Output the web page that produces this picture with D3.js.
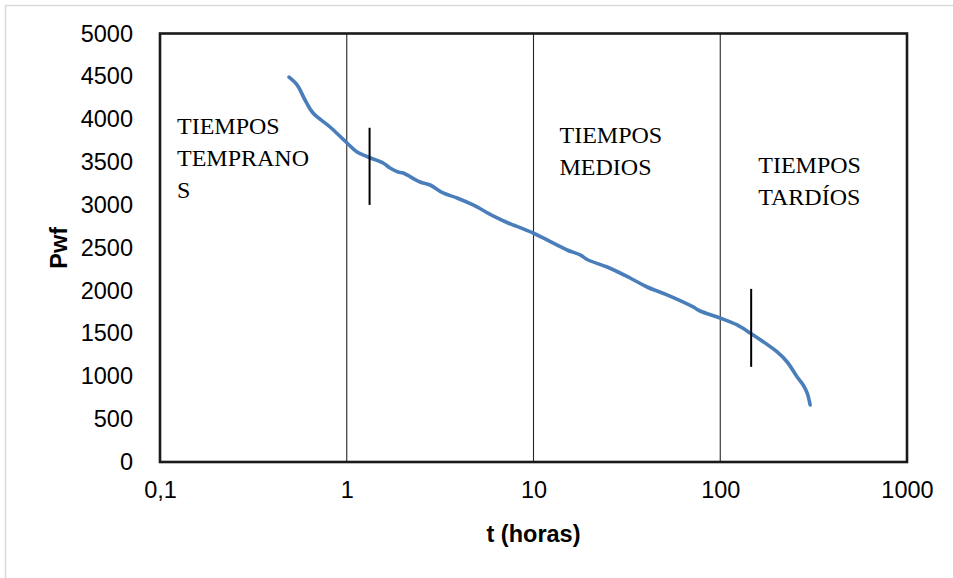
<!DOCTYPE html>
<html>
<head>
<meta charset="utf-8">
<script src="https://cdn.jsdelivr.net/npm/d3@7"></script>
<style>
  html, body { margin: 0; padding: 0; background: #ffffff; }
  svg { display: block; }
</style>
</head>
<body>
<script>
// Pressure drawdown: Pwf versus time on a semi-log scale
const timeHours = [0.491, 0.542, 0.598, 0.660, 0.814, 1.004, 1.135, 1.30, 1.565, 1.705,
  1.883, 2.003, 2.47, 2.795, 3.28, 3.897, 4.75, 6.075, 7.31, 7.78, 9.95, 11.83, 15.14,
  17.77, 19.61, 24.8, 32.9, 40.6, 51.9, 71.6, 78.0, 99.9, 123.1, 144.6, 201.7, 228.2,
  258.2, 278, 292.2, 303];
const pwf = [4490, 4400, 4224, 4072, 3909, 3722, 3617, 3559, 3489, 3431,
  3384, 3372, 3267, 3232, 3139, 3081, 2999, 2871, 2789, 2766, 2672, 2591, 2474,
  2416, 2357, 2275, 2147, 2042, 1949, 1809, 1762, 1680, 1599, 1505, 1284, 1167,
  992, 899, 805, 665];

// Region boundaries (decade lines) and flow-regime markers
const boundaries = [1, 10, 100];
const markerTimes = [1.325, 146.4];
const markerLow = [3000, 1110];
const markerHigh = [3900, 2020];

// Region labels (one entry per text line)
const regionStart = [0.1, 10, 100];
const regionLines = [["TIEMPOS", "TEMPRANO", "S"], ["TIEMPOS", "MEDIOS"], ["TIEMPOS", "TARDÍOS"]];

const xTicks = [0.1, 1, 10, 100, 1000];
const xTickLabels = ["0,1", "1", "10", "100", "1000"];
const yTicks = [0, 500, 1000, 1500, 2000, 2500, 3000, 3500, 4000, 4500, 5000];

const W = 953, H = 578;
const plot = { left: 160, right: 907, top: 33.5, bottom: 462 };

const svg = d3.select("body").append("svg").attr("width", W).attr("height", H);

// outer chart frame
svg.append("rect")
  .attr("x", 5.5).attr("y", 5.5).attr("width", 960).attr("height", 590)
  .attr("fill", "#ffffff").attr("stroke", "#d9d9d9").attr("stroke-width", 1.5);

const x = d3.scaleLog().domain([0.1, 1000]).range([plot.left, plot.right]);
const y = d3.scaleLinear().domain([0, 5000]).range([plot.bottom, plot.top]);

// decade boundary lines
svg.append("g").selectAll("line").data(boundaries).join("line")
  .attr("x1", d => x(d)).attr("x2", d => x(d))
  .attr("y1", plot.top).attr("y2", plot.bottom)
  .attr("stroke", "#262626").attr("stroke-width", 1.1);

// plot frame
svg.append("rect")
  .attr("x", plot.left).attr("y", plot.top)
  .attr("width", plot.right - plot.left).attr("height", plot.bottom - plot.top)
  .attr("fill", "none").attr("stroke", "#1a1a1a").attr("stroke-width", 2.6);

// y axis labels
const yAxis = d3.axisLeft(y).tickValues(yTicks).tickSize(0).tickPadding(27).tickFormat(d3.format("d"));
svg.append("g").attr("transform", `translate(${plot.left},0)`).call(yAxis)
  .call(g => g.select(".domain").remove())
  .selectAll("text")
  .attr("font-family", "Liberation Sans, Arial, sans-serif")
  .attr("font-size", 23.5).attr("fill", "#000");

// x axis labels
const xAxis = d3.axisBottom(x).tickValues(xTicks).tickSize(0).tickPadding(19)
  .tickFormat((d, i) => xTickLabels[i]);
svg.append("g").attr("transform", `translate(0,${plot.bottom})`).call(xAxis)
  .call(g => g.select(".domain").remove())
  .selectAll("text")
  .attr("font-family", "Liberation Sans, Arial, sans-serif")
  .attr("font-size", 23.5).attr("fill", "#000");

// axis titles
svg.append("text")
  .attr("x", (plot.left + plot.right) / 2).attr("y", 542)
  .attr("text-anchor", "middle")
  .attr("font-family", "Liberation Sans, Arial, sans-serif")
  .attr("font-weight", "bold").attr("font-size", 23.5)
  .text("t (horas)");

svg.append("text")
  .attr("transform", `translate(67,${(plot.top + plot.bottom) / 2}) rotate(-90)`)
  .attr("text-anchor", "middle")
  .attr("font-family", "Liberation Sans, Arial, sans-serif")
  .attr("font-weight", "bold").attr("font-size", 23.5)
  .text("Pwf");

// pressure curve
const line = d3.line()
  .x((d, i) => x(timeHours[i]))
  .y(d => y(d))
  .curve(d3.curveCatmullRom.alpha(0.5));

svg.append("path")
  .datum(pwf)
  .attr("d", line)
  .attr("fill", "none")
  .attr("stroke", "#4a7ebb")
  .attr("stroke-width", 3.6)
  .attr("stroke-linecap", "round")
  .attr("stroke-linejoin", "round");

// regime transition markers
svg.append("g").selectAll("line").data(markerTimes).join("line")
  .attr("x1", d => x(d)).attr("x2", d => x(d))
  .attr("y1", (d, i) => y(markerHigh[i])).attr("y2", (d, i) => y(markerLow[i]))
  .attr("stroke", "#000").attr("stroke-width", 2);

// region labels
const labelOffsetX = [17, 26, 38];
const labelTopY = [134, 143, 173];
regionLines.forEach((lines, i) => {
  const t = svg.append("text")
    .attr("font-family", "Liberation Serif, 'Times New Roman', serif")
    .attr("font-size", 24).attr("fill", "#000");
  lines.forEach((s, j) => {
    t.append("tspan")
      .attr("x", x(regionStart[i]) + labelOffsetX[i])
      .attr("y", labelTopY[i] + j * 32)
      .text(s);
  });
});
</script>
</body>
</html>
